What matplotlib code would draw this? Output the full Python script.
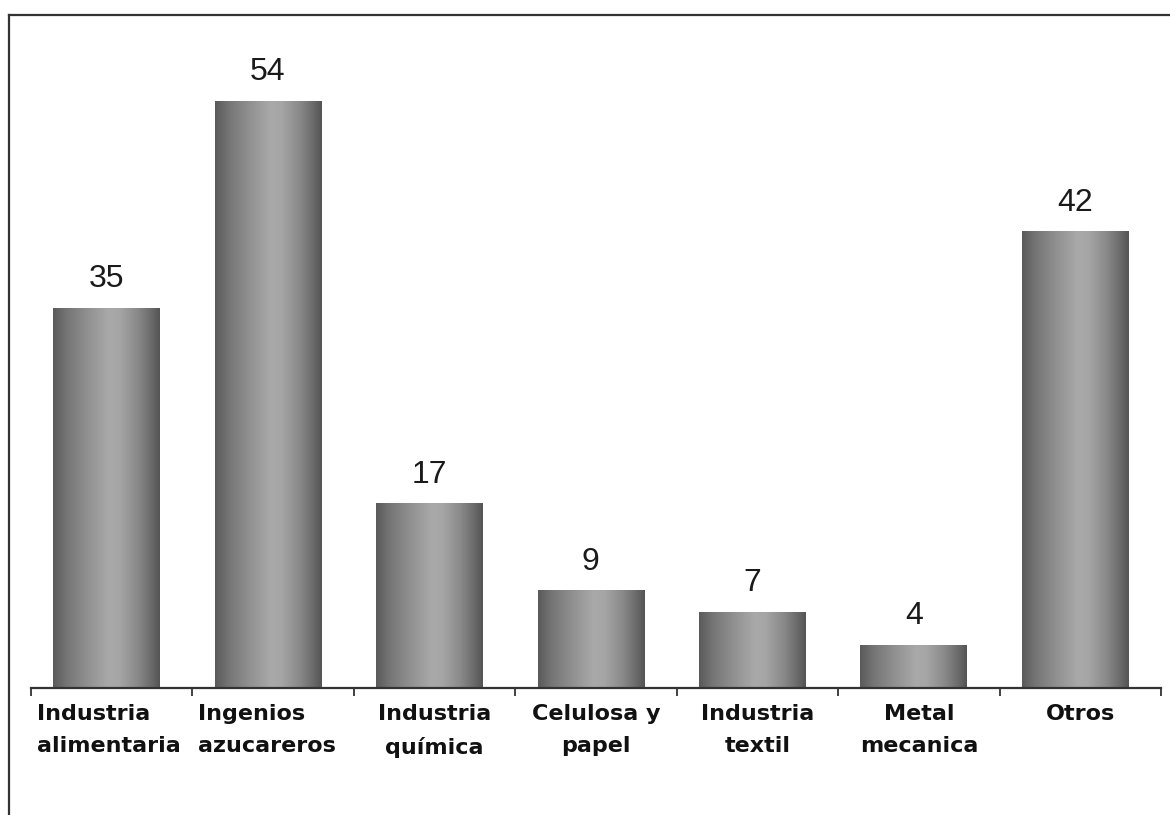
import matplotlib
matplotlib.use("Agg")
import matplotlib.pyplot as plt
import numpy as np
from matplotlib.colors import LinearSegmentedColormap
from matplotlib.lines import Line2D

categories = [
    "Industria\nalimentaria",
    "Ingenios\nazucareros",
    "Industria\nquímica",
    "Celulosa y\npapel",
    "Industria\ntextil",
    "Metal\nmecanica",
    "Otros",
]
values = [35, 54, 17, 9, 7, 4, 42]

W, H = 1170, 815
fig = plt.figure(figsize=(W / 100, H / 100), dpi=100)
fig.patch.set_facecolor("white")

# axes box in pixels: x 31..1161, baseline at y=688, top at y=30
left, right, bottom, top = 31, 1161, 688, 30
ax = fig.add_axes([left / W, 1 - bottom / H, (right - left) / W, (bottom - top) / H])
ax.set_xlim(-0.5, len(categories) - 0.5)
ax.set_ylim(0, (bottom - top) / 10.87)

for side in ("top", "right", "left"):
    ax.spines[side].set_visible(False)
ax.spines["bottom"].set_color("#333333")
ax.spines["bottom"].set_linewidth(1.6)
ax.set_yticks([])
bounds = np.arange(len(categories) + 1) - 0.5
ax.set_xticks(bounds)
ax.set_xticklabels([])
ax.tick_params(axis="x", direction="out", length=6, width=1.3, color="#333333")

# cylinder shading for each bar
shade = LinearSegmentedColormap.from_list(
    "cyl",
    [(0.0, "#5a5a5a"), (0.12, "#747474"), (0.32, "#909090"), (0.52, "#a9a9a9"),
     (0.62, "#a6a6a6"), (0.8, "#888888"), (0.93, "#686868"), (1.0, "#545454")],
)
grad = np.linspace(0, 1, 256).reshape(1, -1)
xpos = np.arange(len(categories)) - 0.032
bars = ax.bar(xpos, values, width=0.66, color="none", edgecolor="none")
for bar, v in zip(bars, values):
    x0 = bar.get_x()
    x1 = x0 + bar.get_width()
    im = ax.imshow(grad, cmap=shade, aspect="auto", extent=(x0, x1, 0, v),
                   interpolation="bicubic", zorder=2)
    im.set_clip_path(bar)
    ax.text(bar.get_x() + bar.get_width() / 2, v + 1.25, str(v), ha="center",
            va="bottom", fontsize=23, family="Liberation Sans", color="#1a1a1a")

# category labels under the axis
for i, lab in enumerate(categories):
    if i < 2:
        xt, ha = i - 0.5 + 0.037, "left"
    else:
        xt, ha = i, "center"
    ax.text(xt, -1.5, lab, ha=ha, va="top", multialignment=ha, fontsize=16,
            fontweight="bold", family="DejaVu Sans", color="#111111",
            linespacing=1.72)

# outer frame: top and left edges only
fig.add_artist(Line2D([8.5 / W, 8.5 / W], [0, 1 - 14.5 / H], transform=fig.transFigure,
                      color="#333333", linewidth=1.6))
fig.add_artist(Line2D([8.5 / W, 1], [1 - 14.5 / H, 1 - 14.5 / H], transform=fig.transFigure,
                      color="#333333", linewidth=1.6))

fig.savefig("out.png", dpi=100)
